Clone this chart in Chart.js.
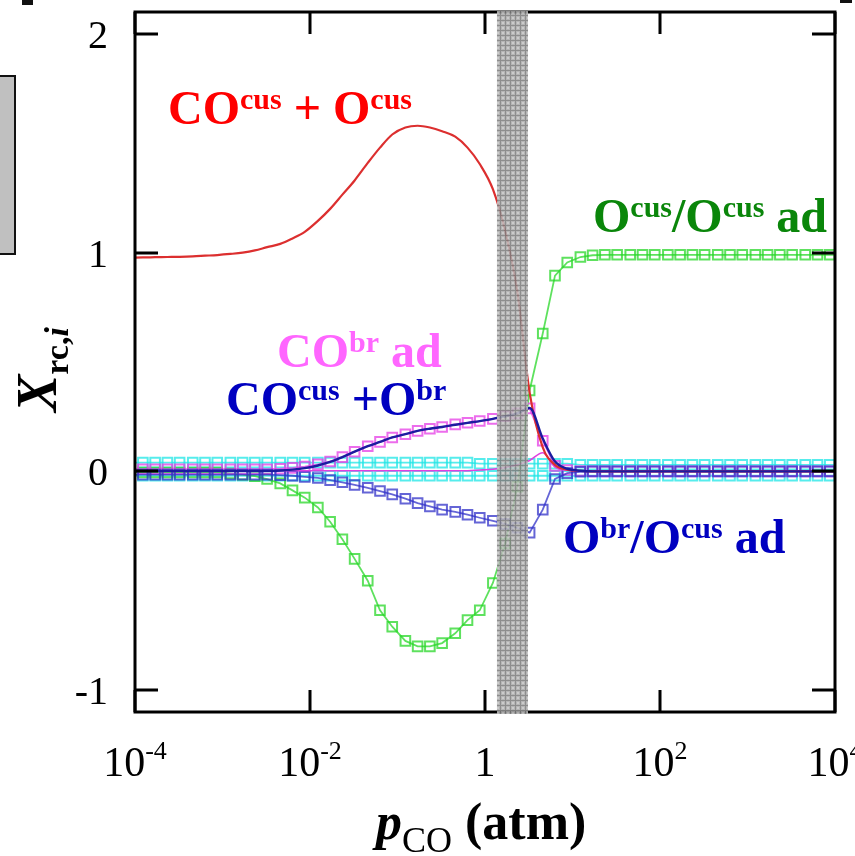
<!DOCTYPE html>
<html>
<head>
<meta charset="utf-8">
<script src="https://cdn.jsdelivr.net/npm/chart.js@4.4.1/dist/chart.umd.min.js"></script>
<style>
  html, body { margin: 0; padding: 0; background: #fff; }
  #wrap { position: relative; width: 855px; height: 856px; overflow: hidden; }
  canvas { display: block; }
  .scrap { position: absolute; }
</style>
</head>
<body>
<div id="wrap">
  <canvas id="rcChart" width="855" height="856"></canvas>
  <!-- bits of the neighbouring panel that were cropped into the figure -->
  <div class="scrap" style="left:-2px;top:75px;width:14px;height:176px;background:#c0c0c0;border:2px solid #111;"></div>
  <div class="scrap" style="left:22px;top:0;width:11px;height:5px;background:#111;"></div>
  <div class="scrap" style="left:840px;top:0;width:12px;height:3px;background:#111;"></div>
</div>
<script>
// log10(pCO / atm) of each sample
const logP = [-4.06, -3.91, -3.77, -3.63, -3.49, -3.34, -3.20, -3.06, -2.91, -2.77,
              -2.63, -2.49, -2.34, -2.20, -2.06, -1.91, -1.77, -1.63, -1.49, -1.34,
              -1.20, -1.06, -0.91, -0.77, -0.63, -0.49, -0.34, -0.20, -0.06, 0.09,
              0.23, 0.37, 0.51, 0.66, 0.80, 0.94, 1.09, 1.23, 1.37, 1.51,
              1.66, 1.80, 1.94, 2.09, 2.23, 2.37, 2.51, 2.66, 2.80, 2.94,
              3.09, 3.23, 3.37, 3.51, 3.66, 3.80, 3.94, 4.09];

// CO^cus + O^cus (red line)
const coCusOCus = [0.977, 0.978, 0.979, 0.980, 0.981, 0.983, 0.986, 0.989, 0.994, 1.000,
                   1.010, 1.025, 1.040, 1.065, 1.095, 1.145, 1.200, 1.265, 1.330, 1.410,
                   1.480, 1.540, 1.572, 1.580, 1.572, 1.555, 1.530, 1.480, 1.405, 1.290,
                   1.100, 0.820, 0.360, 0.110, 0.030, 0.008, 0.002, 0, 0, 0,
                   0, 0, 0, 0, 0, 0, 0, 0, 0, 0,
                   0, 0, 0, 0, 0, 0, 0, 0];

// CO^cus + O^br (dark blue line)
const coCusOBr = [0.002, 0.002, 0.002, 0.002, 0.002, 0.002, 0.002, 0.002, 0.002, 0.002,
                  0.002, 0.002, 0.004, 0.008, 0.015, 0.027, 0.043, 0.065, 0.090, 0.115,
                  0.135, 0.155, 0.170, 0.185, 0.195, 0.203, 0.213, 0.222, 0.230, 0.240,
                  0.252, 0.265, 0.290, 0.150, 0.045, 0.012, 0.003, 0, 0, 0,
                  0, 0, 0, 0, 0, 0, 0, 0, 0, 0,
                  0, 0, 0, 0, 0, 0, 0, 0];

// CO^br ad (magenta squares)
const coBrAd = [0.010, 0.010, 0.010, 0.010, 0.010, 0.010, 0.010, 0.010, 0.010, 0.010,
                0.010, 0.010, 0.012, 0.016, 0.022, 0.032, 0.045, 0.065, 0.090, 0.115,
                0.135, 0.155, 0.170, 0.185, 0.195, 0.203, 0.215, 0.222, 0.230, 0.240,
                0.252, 0.265, 0.288, 0.140, 0.025, 0.006, 0.002, 0, 0, 0,
                0, 0, 0, 0, 0, 0, 0, 0, 0, 0,
                0, 0, 0, 0, 0, 0, 0, 0];

// O^br/O^cus ad (blue squares)
const oBrOCusAd = [-0.015, -0.015, -0.015, -0.015, -0.015, -0.015, -0.015, -0.015, -0.015, -0.015,
                   -0.015, -0.015, -0.017, -0.020, -0.025, -0.030, -0.040, -0.050, -0.062, -0.075,
                   -0.090, -0.105, -0.125, -0.145, -0.160, -0.175, -0.185, -0.198, -0.212, -0.226,
                   -0.240, -0.258, -0.280, -0.175, -0.035, -0.008, -0.002, 0, 0, 0,
                   0, 0, 0, 0, 0, 0, 0, 0, 0, 0,
                   0, 0, 0, 0, 0, 0, 0, 0];

// O^cus/O^cus ad (green squares)
const oCusOCusAd = [-0.005, -0.005, -0.005, -0.005, -0.005, -0.005, -0.005, -0.005, -0.010, -0.015,
                    -0.022, -0.035, -0.055, -0.087, -0.120, -0.165, -0.230, -0.310, -0.400, -0.500,
                    -0.635, -0.710, -0.775, -0.800, -0.800, -0.785, -0.740, -0.680, -0.635, -0.510,
                    -0.330, -0.070, 0.370, 0.630, 0.895, 0.955, 0.980, 0.988, 0.990, 0.990,
                    0.990, 0.990, 0.990, 0.990, 0.990, 0.990, 0.990, 0.990, 0.990, 0.990,
                    0.990, 0.990, 0.990, 0.990, 0.990, 0.990, 0.990, 0.990];

// cyan squares, two nearly flat rows
const cyanUpper = [0.040, 0.040, 0.040, 0.040, 0.040, 0.040, 0.040, 0.040, 0.040, 0.040,
                   0.040, 0.040, 0.040, 0.040, 0.040, 0.040, 0.040, 0.040, 0.040, 0.040,
                   0.040, 0.040, 0.040, 0.040, 0.040, 0.040, 0.040, 0.040, 0.035, 0.035,
                   0.035, 0.035, 0.035, 0.035, 0.035, 0.035, 0.030, 0.030, 0.030, 0.030,
                   0.030, 0.030, 0.030, 0.030, 0.030, 0.030, 0.030, 0.030, 0.030, 0.030,
                   0.030, 0.030, 0.030, 0.030, 0.030, 0.030, 0.030, 0.030];
const cyanLower = [-0.020, -0.020, -0.020, -0.020, -0.020, -0.020, -0.020, -0.020, -0.020, -0.020,
                   -0.020, -0.020, -0.020, -0.020, -0.020, -0.020, -0.020, -0.020, -0.020, -0.020,
                   -0.020, -0.020, -0.020, -0.020, -0.020, -0.020, -0.020, -0.020, -0.020, -0.020,
                   -0.020, -0.020, -0.020, -0.020, -0.020, -0.020, -0.020, -0.020, -0.020, -0.020,
                   -0.020, -0.020, -0.020, -0.020, -0.020, -0.020, -0.020, -0.020, -0.020, -0.020,
                   -0.020, -0.020, -0.020, -0.020, -0.020, -0.020, -0.020, -0.020];

// thin magenta line near zero
const magentaThin = [0.003, 0.003, 0.003, 0.003, 0.003, 0.003, 0.003, 0.003, 0.003, 0.003,
                     0.003, 0.003, 0.003, 0.003, 0.003, 0.003, 0.003, 0.003, 0.003, 0.003,
                     0.003, 0.003, 0.003, 0.003, 0.003, 0.003, 0.003, 0.003, 0.006, 0.010,
                     0.017, 0.030, 0.050, 0.085, 0.020, 0.005, 0.002, 0.002, 0.002, 0.002,
                     0.002, 0.002, 0.002, 0.002, 0.002, 0.002, 0.002, 0.002, 0.002, 0.002,
                     0.002, 0.002, 0.002, 0.002, 0.002, 0.002, 0.002, 0.002];

const yTicks = [-1, 0, 1, 2];
const xTicks = [1e-4, 1e-2, 1, 1e2, 1e4];
const xTickText = [['10', '-4'], ['10', '-2'], ['1', ''], ['10', '2'], ['10', '4']];
const bandRange = [1.37, 3.1];   // shaded pCO window (atm)

const SERIF = '"Liberation Serif", "DejaVu Serif", serif';

const toPoints = ys => logP.map((v, i) => ({ x: Math.pow(10, v), y: ys[i] }));

function lineSet(label, ys, color, width) {
  return {
    label, data: toPoints(ys),
    borderColor: color, borderWidth: width,
    pointRadius: 0, fill: false, cubicInterpolationMode: 'monotone', clip: 0,
  };
}

function squareSet(label, ys, color) {
  return {
    label, data: toPoints(ys),
    borderColor: color, borderWidth: 1.8,
    pointStyle: 'rect', pointRadius: 6.8, pointBorderWidth: 2,
    pointBorderColor: color, pointBackgroundColor: 'rgba(0,0,0,0)',
    fill: false, tension: 0, clip: 0,
  };
}

// label pieces: [text, font, dy]
function drawRich(ctx, x, y, parts, color) {
  ctx.fillStyle = color;
  ctx.textAlign = 'left';
  ctx.textBaseline = 'alphabetic';
  let cx = x;
  parts.forEach(([t, font, dy]) => {
    ctx.font = font;
    ctx.fillText(t, cx, y + (dy || 0));
    cx += ctx.measureText(t).width;
  });
}
function richWidth(ctx, parts) {
  return parts.reduce((s, [t, font]) => { ctx.font = font; return s + ctx.measureText(t).width; }, 0);
}

const BIG = `bold 48px ${SERIF}`;
const SUP = `bold 30px ${SERIF}`;
const annotations = [
  { x: 168, y: 124, color: '#ff0000', parts: [['CO', BIG], ['cus', SUP, -15], [' + O', BIG], ['cus', SUP, -15]] },
  { x: 277, y: 367, color: '#ff66ff', parts: [['CO', BIG], ['br', SUP, -15], [' ad', BIG]] },
  { x: 226, y: 415, color: '#0000c0', parts: [['CO', BIG], ['cus', SUP, -15], [' +O', BIG], ['br', SUP, -15]] },
  { x: 593, y: 232, color: '#0a860a', parts: [['O', BIG], ['cus', SUP, -15], ['/O', BIG], ['cus', SUP, -15], [' ad', BIG]] },
  { x: 563, y: 553, color: '#0000c0', parts: [['O', BIG], ['br', SUP, -15], ['/O', BIG], ['cus', SUP, -15], [' ad', BIG]] },
];

function bandPattern(ctx) {
  const tile = document.createElement('canvas');
  tile.width = 5; tile.height = 5;
  const t = tile.getContext('2d');
  t.fillStyle = '#ababab'; t.fillRect(0, 0, 5, 5);
  t.fillStyle = '#7e7e7e'; t.fillRect(0, 0, 5, 1); t.fillRect(0, 0, 1, 5);
  t.fillStyle = '#c4c4c4'; t.fillRect(2, 2, 2, 2);
  return ctx.createPattern(tile, 'repeat');
}

const framePlugin = {
  id: 'frame',
  afterDatasetsDraw(chart) {
    const { ctx, chartArea: a, scales: { x, y } } = chart;
    ctx.save();

    // box and inward ticks, mirrored on all sides
    ctx.strokeStyle = '#000';
    ctx.lineWidth = 3;
    ctx.strokeRect(a.left, a.top, a.right - a.left, a.bottom - a.top);
    ctx.beginPath();
    yTicks.forEach(v => {
      const py = Math.round(y.getPixelForValue(v));
      ctx.moveTo(a.left, py); ctx.lineTo(a.left + 23, py);
      ctx.moveTo(a.right - 23, py); ctx.lineTo(a.right, py);
    });
    xTicks.forEach(v => {
      const px = Math.round(x.getPixelForValue(v));
      ctx.moveTo(px, a.bottom); ctx.lineTo(px, a.bottom - 22);
      ctx.moveTo(px, a.top); ctx.lineTo(px, a.top + 22);
    });
    ctx.stroke();

    // shaded window, laid over the curves and the frame
    const b0 = x.getPixelForValue(bandRange[0]);
    const b1 = x.getPixelForValue(bandRange[1]);
    ctx.globalAlpha = 0.88;
    ctx.fillStyle = bandPattern(ctx);
    ctx.fillRect(b0, a.top - 2, b1 - b0, a.bottom - a.top + 4);
    ctx.globalAlpha = 1;

    // tick labels
    ctx.fillStyle = '#000';
    ctx.textBaseline = 'alphabetic';
    ctx.font = `40px ${SERIF}`;
    ctx.textAlign = 'right';
    yTicks.forEach(v => {
      ctx.fillText(String(v), a.left - 27, y.getPixelForValue(v) + 14);
    });
    xTicks.forEach((v, i) => {
      const [base, exp] = xTickText[i];
      const parts = [[base, `42px ${SERIF}`], [exp, `26px ${SERIF}`, -17]];
      const w = richWidth(ctx, parts);
      drawRich(ctx, x.getPixelForValue(v) - w / 2, a.bottom + 64, parts, '#000');
    });

    // axis titles
    drawRich(ctx, 376, 839, [['p', `bold italic 52px ${SERIF}`], ['CO', `36px ${SERIF}`, 13], [' (atm)', `bold 52px ${SERIF}`]], '#000');
    ctx.save();
    ctx.translate(56, 412);
    ctx.rotate(-Math.PI / 2);
    drawRich(ctx, 0, 0, [['X', `bold italic 56px ${SERIF}`], ['rc,', `bold 34px ${SERIF}`, 12], ['i', `bold italic 34px ${SERIF}`, 12]], '#000');
    ctx.restore();

    // curve names
    annotations.forEach(n => drawRich(ctx, n.x, n.y, n.parts, n.color));

    ctx.restore();
  }
};

new Chart(document.getElementById('rcChart'), {
  type: 'line',
  data: {
    datasets: [
      lineSet('CO^cus + O^br', coCusOBr, '#1c1ca0', 2.4),
      lineSet('CO^cus + O^cus', coCusOCus, '#dc2f2f', 2.2),
      lineSet('thin magenta', magentaThin, '#e040e0', 1.6),
      squareSet('O^br/O^cus ad', oBrOCusAd, 'rgba(50,50,200,0.75)'),
      squareSet('CO^br ad', coBrAd, 'rgba(230,60,230,0.75)'),
      squareSet('O^cus/O^cus ad', oCusOCusAd, 'rgba(40,215,40,0.75)'),
      squareSet('cyan upper', cyanUpper, 'rgba(30,230,230,0.75)'),
      squareSet('cyan lower', cyanLower, 'rgba(30,230,230,0.75)'),
    ]
  },
  options: {
    responsive: false,
    animation: false,
    layout: { padding: { left: 135, right: 20, top: 12, bottom: 144 } },
    plugins: { legend: { display: false }, tooltip: { enabled: false } },
    scales: {
      x: { type: 'logarithmic', min: 1e-4, max: 1e4, display: false },
      y: { type: 'linear', min: -1.1, max: 2.1, display: false }
    }
  },
  plugins: [framePlugin]
});
</script>
</body>
</html>
